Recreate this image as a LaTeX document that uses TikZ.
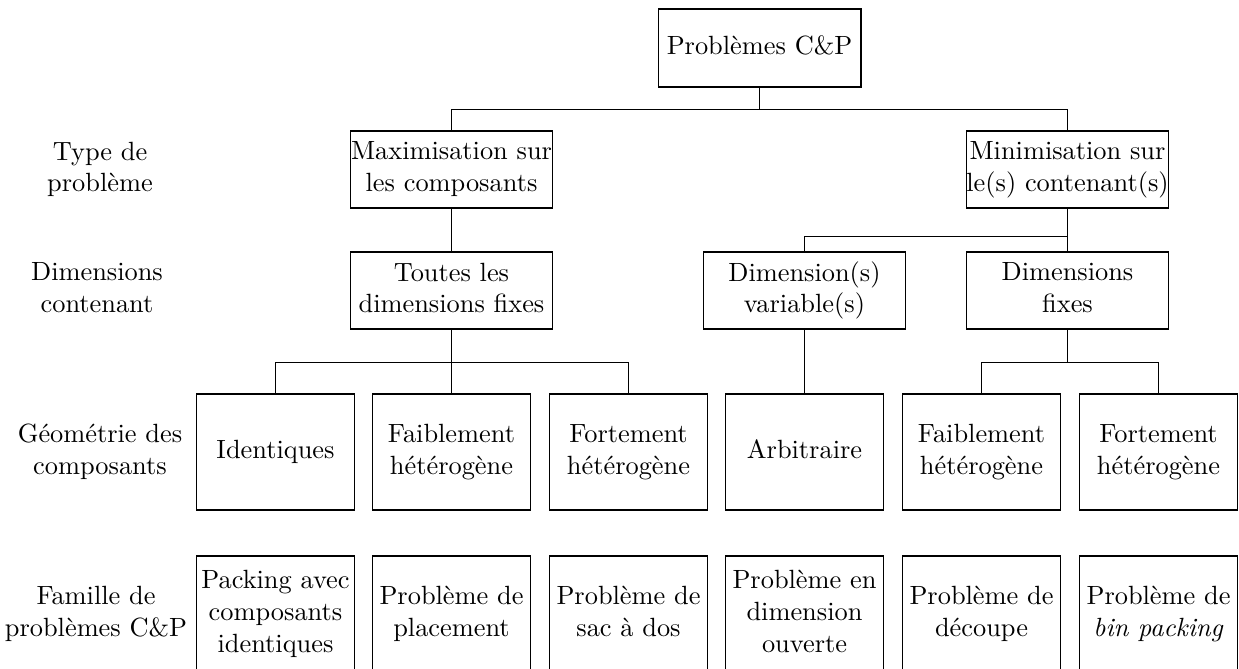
\documentclass[tikz,border=0pt]{standalone}
\begin{document}
\begin{tikzpicture}[x=0.3794pt, y=-0.3794pt,
  box/.style={draw, line width=0.4pt, inner sep=0pt, align=center,
    execute at end node=\vphantom{g}},
  wide/.style={box, minimum width=76.5pt, minimum height=29.2pt},
  cell/.style={box, minimum width=60pt, minimum height=44pt},
  rowlabel/.style={align=center, inner sep=0pt, execute at end node=\vphantom{g}}]
  \useasboundingbox (0,0) rectangle (1239,668);
  \clip (0,0) rectangle (1239,668);

  % root
  \node[box, minimum width=77pt, minimum height=29.6pt] (root) at (759.5,48) {Problèmes C\&P};

  % problem type
  \node[wide] (max) at (451.5,169.5) {Maximisation sur\\les composants};
  \node[wide] (min) at (1067.5,169.5) {Minimisation sur\\le(s) contenant(s)};

  % container dimensions
  \node[wide] (toutes) at (451.5,290.5) {Toutes les\\dimensions fixes};
  \node[wide] (dimvar) at (804.5,290.5) {Dimension(s)\\variable(s)};
  \node[wide] (dimfix) at (1067.5,290.5) {Dimensions\\fixes};

  % item geometry
  \node[cell] (g1) at (275.5,452) {Identiques};
  \node[cell] (g2) at (451.5,452) {Faiblement\\hétérogène};
  \node[cell] (g3) at (628.5,452) {Fortement\\hétérogène};
  \node[cell] (g4) at (804.5,452) {Arbitraire};
  \node[cell] (g5) at (981.5,452) {Faiblement\\hétérogène};
  \node[cell] (g6) at (1158.5,452) {Fortement\\hétérogène};

  % problem families
  \node[cell] (f1) at (275.5,614) {Packing avec\\composants\\identiques};
  \node[cell] (f2) at (451.5,614) {Problème de\\placement};
  \node[cell] (f3) at (628.5,614) {Problème de\\sac à dos};
  \node[cell] (f4) at (804.5,614) {Problème en\\dimension\\ouverte};
  \node[cell] (f5) at (981.5,614) {Problème de\\découpe};
  \node[cell] (f6) at (1158.5,614) {Problème de\\\textit{bin packing}};

  % row labels
  \node[rowlabel] (l1) at (100,169.5) {Type de\\problème};
  \node[rowlabel] (l2) at (97,290.5) {Dimensions\\contenant};
  \node[rowlabel] (l3) at (100,452) {Géométrie des\\composants};
  \node[rowlabel] (l4) at (96,614) {Famille de\\problèmes C\&P};

  % branching points
  \coordinate (jr) at ([yshift=-22*0.3794pt]root.south);
  \coordinate (jm) at ([yshift=-28*0.3794pt]min.south);
  \coordinate (jt) at ([yshift=-33*0.3794pt]toutes.south);
  \coordinate (jf) at ([yshift=-33*0.3794pt]dimfix.south);

  % tree connectors
  \draw (root.south) -- (jr);
  \draw (max.north) -- (max.north |- jr) -- (min.north |- jr) -- (min.north);
  \draw (max.south) -- (toutes.north);
  \draw (min.south) -- (dimfix.north);
  \draw (jm) -- (dimvar.north |- jm) -- (dimvar.north);
  \draw (toutes.south) -- (g2.north);
  \draw (g1.north) -- (g1.north |- jt) -- (g3.north |- jt) -- (g3.north);
  \draw (dimvar.south) -- (g4.north);
  \draw (dimfix.south) -- (jf);
  \draw (g5.north) -- (g5.north |- jf) -- (g6.north |- jf) -- (g6.north);
\end{tikzpicture}
\end{document}
